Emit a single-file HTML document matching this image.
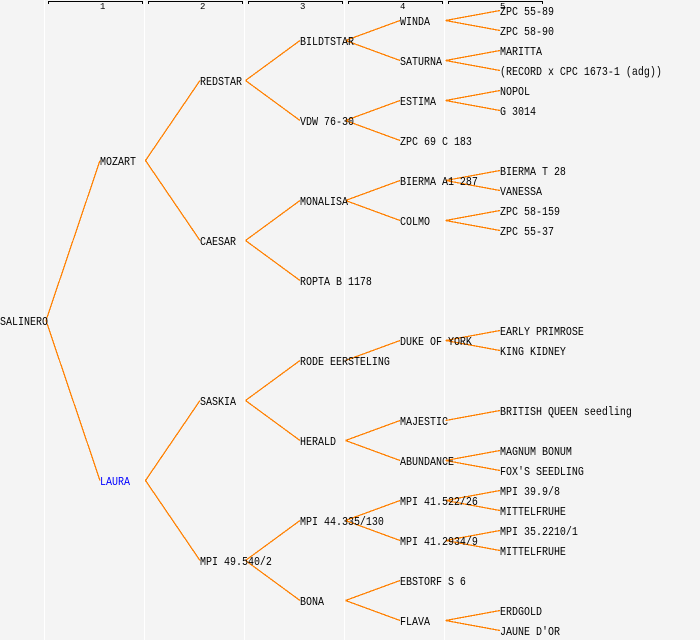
<!DOCTYPE html>
<html><head><meta charset="utf-8"><style>
html,body{margin:0;padding:0;width:700px;height:640px;overflow:hidden;background:#f4f4f4}
svg{display:block}
text{font-family:"Liberation Mono","DejaVu Sans Mono",monospace;font-size:10px;fill:#000;white-space:pre;transform-box:fill-box;transform-origin:0 100%;transform:translateY(-.5px) scaleY(1.2)}
text.h{font-size:9px;transform:none}
</style></head><body>
<svg width="700" height="640" viewBox="0 0 700 640" xmlns="http://www.w3.org/2000/svg">
<rect width="700" height="640" fill="#f4f4f4"/>
<g fill="#fff"><rect x="44" y="0" width="1" height="640"/><rect x="144" y="0" width="1" height="640"/><rect x="244" y="0" width="1" height="640"/><rect x="344" y="0" width="1" height="640"/><rect x="444" y="0" width="1" height="640"/></g>
<g fill="none" stroke="#000" stroke-width="1" shape-rendering="crispEdges">
<path d="M48.5 4V1.5H142.5V4M148.5 4V1.5H242.5V4M248.5 4V1.5H342.5V4M348.5 4V1.5H442.5V4M448.5 4V1.5H542.5V4"/>
</g>
<g class="hh"><text class="h" x="100" y="9">1</text><text class="h" x="200" y="9">2</text><text class="h" x="300" y="9">3</text><text class="h" x="400" y="9">4</text><text class="h" x="500" y="9">5</text></g>
<g fill="none" stroke="#ff8000" stroke-width="1.25" shape-rendering="crispEdges">
<path d="M46 320.5L100 160.5M46 320.5L100 480.5"/>
<path d="M145.5 160.5L200 80.5M145.5 160.5L200 240.5M145.5 480.5L200 400.5M145.5 480.5L200 560.5"/>
<path d="M245.5 80.5L300 40.5M245.5 80.5L300 120.5M245.5 240.5L300 200.5M245.5 240.5L300 280.5M245.5 400.5L300 360.5M245.5 400.5L300 440.5M245.5 560.5L300 520.5M245.5 560.5L300 600.5"/>
<path d="M345.5 40.5L400 20.5M345.5 40.5L400 60.5M345.5 120.5L400 100.5M345.5 120.5L400 140.5M345.5 200.5L400 180.5M345.5 200.5L400 220.5M345.5 360.5L400 340.5M345.5 440.5L400 420.5M345.5 440.5L400 460.5M345.5 520.5L400 500.5M345.5 520.5L400 540.5M345.5 600.5L400 580.5M345.5 600.5L400 620.5"/>
<path d="M445.5 20.5L500 10.5M445.5 20.5L500 30.5M445.5 60.5L500 50.5M445.5 60.5L500 70.5M445.5 100.5L500 90.5M445.5 100.5L500 110.5M445.5 180.5L500 170.5M445.5 180.5L500 190.5M445.5 220.5L500 210.5M445.5 220.5L500 230.5M445.5 340.5L500 330.5M445.5 340.5L500 350.5M445.5 420.5L500 410.5M445.5 460.5L500 450.5M445.5 460.5L500 470.5M445.5 500.5L500 490.5M445.5 500.5L500 510.5M445.5 540.5L500 530.5M445.5 540.5L500 550.5M445.5 620.5L500 610.5M445.5 620.5L500 630.5"/>
</g>
<text x="0" y="326">SALINERO</text>
<text x="100" y="166">MOZART</text>
<text x="100" y="486" style="fill:#0000ff">LAURA</text>
<text x="200" y="86">REDSTAR</text>
<text x="200" y="246">CAESAR</text>
<text x="200" y="406">SASKIA</text>
<text x="200" y="566">MPI 49.540/2</text>
<text x="300" y="46">BILDTSTAR</text>
<text x="300" y="126">VDW 76-30</text>
<text x="300" y="206">MONALISA</text>
<text x="300" y="286">ROPTA B 1178</text>
<text x="300" y="366">RODE EERSTELING</text>
<text x="300" y="446">HERALD</text>
<text x="300" y="526">MPI 44.335/130</text>
<text x="300" y="606">BONA</text>
<text x="400" y="26">WINDA</text>
<text x="400" y="66">SATURNA</text>
<text x="400" y="106">ESTIMA</text>
<text x="400" y="146">ZPC 69 C 183</text>
<text x="400" y="186">BIERMA A1 287</text>
<text x="400" y="226">COLMO</text>
<text x="400" y="346">DUKE OF YORK</text>
<text x="400" y="426">MAJESTIC</text>
<text x="400" y="466">ABUNDANCE</text>
<text x="400" y="506">MPI 41.522/26</text>
<text x="400" y="546">MPI 41.2934/9</text>
<text x="400" y="586">EBSTORF S 6</text>
<text x="400" y="626">FLAVA</text>
<text x="500" y="16">ZPC 55-89</text>
<text x="500" y="36">ZPC 58-90</text>
<text x="500" y="56">MARITTA</text>
<text x="500" y="76">(RECORD x CPC 1673-1 (adg))</text>
<text x="500" y="96">NOPOL</text>
<text x="500" y="116">G 3014</text>
<text x="500" y="176">BIERMA T 28</text>
<text x="500" y="196">VANESSA</text>
<text x="500" y="216">ZPC 58-159</text>
<text x="500" y="236">ZPC 55-37</text>
<text x="500" y="336">EARLY PRIMROSE</text>
<text x="500" y="356">KING KIDNEY</text>
<text x="500" y="416">BRITISH QUEEN seedling</text>
<text x="500" y="456">MAGNUM BONUM</text>
<text x="500" y="476">FOX'S SEEDLING</text>
<text x="500" y="496">MPI 39.9/8</text>
<text x="500" y="516">MITTELFRUHE</text>
<text x="500" y="536">MPI 35.2210/1</text>
<text x="500" y="556">MITTELFRUHE</text>
<text x="500" y="616">ERDGOLD</text>
<text x="500" y="636">JAUNE D'OR</text>
</svg>
</body></html>
